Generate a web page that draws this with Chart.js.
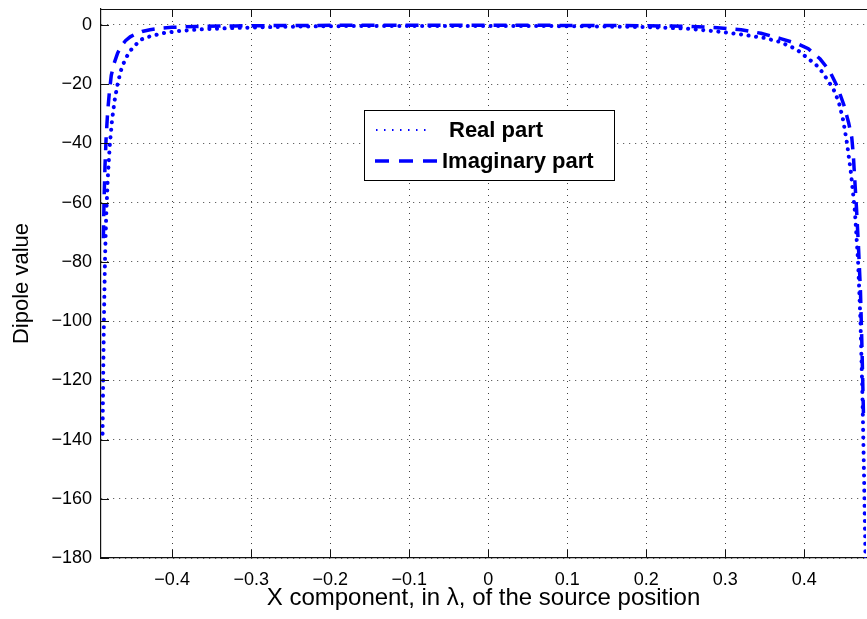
<!DOCTYPE html>
<html>
<head>
<meta charset="utf-8">
<title>Dipole value</title>
<script src="https://cdn.jsdelivr.net/npm/chart.js@4.4.1/dist/chart.umd.min.js"></script>
<style>
    body { margin: 0; background: #fff; }
</style>
</head>
<body>
<canvas id="dipoleChart" width="867" height="619"></canvas>
<script>

// values
let realX = [-0.4880, -0.4872, -0.4862, -0.4850, -0.4835, -0.4815, -0.4790, -0.4760, -0.4725, -0.4690,
             -0.4650, -0.4600, -0.4540, -0.4480, -0.4400, -0.4300, -0.4200, -0.4100, -0.3900, -0.3600,
             -0.3200, -0.2600, -0.2000, -0.1000, 0.0000, 0.1000, 0.2000, 0.2500, 0.2900, 0.3200,
             0.3500, 0.3700, 0.3900, 0.4000, 0.4150, 0.4230, 0.4290, 0.4360, 0.4400, 0.4440,
             0.4490, 0.4540, 0.4590, 0.4640, 0.4680, 0.4710, 0.4735, 0.4755, 0.4775];
let realY = [-138, -118, -98, -80, -65, -52, -41, -32, -25, -20,
             -15.5, -12, -9, -7.2, -5, -4, -3.3, -2.7, -2, -1.4,
             -1, -0.6, -0.4, -0.3, -0.3, -0.4, -0.7, -1.2, -2.2, -3.2,
             -4.4, -5.8, -8.2, -10.3, -13.5, -16, -18.5, -21.2, -23.6, -26.5,
             -32, -40, -50, -63, -80, -100, -125, -152, -182];

let imagX = [-0.4870, -0.4862, -0.4850, -0.4835, -0.4815, -0.4795, -0.4770, -0.4735, -0.4690, -0.4640,
             -0.4590, -0.4530, -0.4460, -0.4380, -0.4280, -0.4150, -0.4000, -0.3700, -0.3200, -0.2500,
             -0.1500, 0.0000, 0.1500, 0.2500, 0.2900, 0.3200, 0.3450, 0.3700, 0.3900, 0.4050,
             0.4200, 0.4320, 0.4420, 0.4500, 0.4560, 0.4600, 0.4620, 0.4635, 0.4660, 0.4685,
             0.4710, 0.4730, 0.4750];
let imagY = [-72, -60, -48, -38, -29, -23, -17, -13, -9.5, -7,
             -5.3, -4, -3, -2.2, -1.6, -1.1, -0.8, -0.5, -0.3, -0.15,
             -0.1, -0.1, -0.15, -0.4, -0.9, -1.6, -2.8, -4.6, -6.2, -8,
             -11.5, -15.5, -21, -27, -33, -38, -44, -51, -62, -75,
             -90, -110, -134];

let xTicks = [-0.4, -0.3, -0.2, -0.1, 0, 0.1, 0.2, 0.3, 0.4];
let yTicks = [-180, -160, -140, -120, -100, -80, -60, -40, -20, 0];

let seriesNames = ['Real part', 'Imaginary part'];

const FONT = '"Liberation Sans", Arial, Helvetica, sans-serif';
const BLUE = '#0000ff';

function toPoints(xs, ys){
    return xs.map((x, i) => ({ x: x, y: ys[i] }));
}

function fmt(v){
    if(v === 0) return '0';
    return (v < 0 ? '\u2212' : '') + Math.abs(v);
}

// box on top + inward ticks, like the matlab axes
const axesBox = {
    id: 'axesBox',
    afterDatasetsDraw(chart){
        let ctx = chart.ctx;
        let a = chart.chartArea;
        let xs = chart.scales.x;
        let ys = chart.scales.y;

        ctx.save();
        ctx.strokeStyle = '#111';
        ctx.lineWidth = 1.2;
        ctx.beginPath();
        ctx.moveTo(a.left, a.top + 0.5);
        ctx.lineTo(a.right + 2, a.top + 0.5);
        ctx.stroke();

        ctx.lineWidth = 1;
        ctx.beginPath();
        xTicks.forEach(v => {
            let px = Math.round(xs.getPixelForValue(v)) + 0.5;
            ctx.moveTo(px, a.bottom);
            ctx.lineTo(px, a.bottom - 8);
            ctx.moveTo(px, a.top);
            ctx.lineTo(px, a.top + 8);
        });
        yTicks.forEach(v => {
            let py = Math.round(ys.getPixelForValue(v)) + 0.5;
            ctx.moveTo(a.left, py);
            ctx.lineTo(a.left + 8, py);
        });
        ctx.stroke();
        ctx.restore();
    }
};

const boxLegend = {
    id: 'boxLegend',
    afterDraw(chart){
        let ctx = chart.ctx;
        let sets = chart.data.datasets;
        let left = 364, top = 110, w = 250, h = 70;

        ctx.save();
        ctx.fillStyle = '#fff';
        ctx.fillRect(left, top, w, h);
        ctx.strokeStyle = '#000';
        ctx.lineWidth = 1;
        ctx.strokeRect(left + 0.5, top + 0.5, w, h);

        // real part sample
        ctx.strokeStyle = sets[0].borderColor;
        ctx.lineWidth = 2;
        ctx.setLineDash([1.5, 6.5]);
        ctx.beginPath();
        ctx.moveTo(376, 130);
        ctx.lineTo(432, 130);
        ctx.stroke();

        // imaginary part sample
        ctx.lineWidth = 3.5;
        ctx.setLineDash([14, 10]);
        ctx.beginPath();
        ctx.moveTo(375, 161);
        ctx.lineTo(438, 161);
        ctx.stroke();
        ctx.setLineDash([]);

        ctx.fillStyle = '#000';
        ctx.font = 'bold 22px ' + FONT;
        ctx.textBaseline = 'middle';
        ctx.fillText(sets[0].label, 449, 131);
        ctx.fillText(sets[1].label, 442, 162);
        ctx.restore();
    }
};

const ctx = document.getElementById('dipoleChart');

new Chart(ctx, {
    type: 'line',
    data: {
        datasets: [{
            label: seriesNames[0],
            data: toPoints(realX, realY),
            borderColor: BLUE,
            borderWidth: 4,
            borderDash: [0.1, 7.5],
            borderCapStyle: 'round',
            pointRadius: 0,
            tension: 0,
            fill: false
        }, {
            label: seriesNames[1],
            data: toPoints(imagX, imagY),
            borderColor: BLUE,
            borderWidth: 3.5,
            borderDash: [13, 9],
            pointRadius: 0,
            tension: 0,
            fill: false
        }]
    },
    options: {
        responsive: false,
        animation: false,
        layout: { padding: { top: 9, right: 1, left: 0, bottom: 0 } },
        plugins: {
            legend: { display: false },
            tooltip: { enabled: false }
        },
        scales: {
            x: {
                type: 'linear',
                min: -0.49,
                max: 0.478,
                afterBuildTicks: axis => { axis.ticks = xTicks.map(v => ({ value: v })); },
                afterFit: axis => {
                    axis.height = 61;
                    axis.paddingLeft = 0;
                    axis.paddingRight = 0;
                },
                grid: { color: 'rgba(0,0,0,0.75)', lineWidth: 1, drawTicks: false },
                border: { display: true, color: '#111', width: 1.2, dash: [1, 5] },
                ticks: {
                    padding: 11,
                    color: '#000',
                    maxRotation: 0,
                    font: { family: FONT, size: 18 },
                    callback: v => fmt(v)
                },
                title: {
                    display: true,
                    text: 'X component, in \u03bb, of the source position',
                    color: '#000',
                    font: { family: FONT, size: 24 },
                    padding: { top: 0, bottom: 6 }
                }
            },
            y: {
                type: 'linear',
                min: -180,
                max: 5.4,
                afterBuildTicks: axis => { axis.ticks = yTicks.map(v => ({ value: v })); },
                afterFit: axis => {
                    axis.width = 101;
                    axis.paddingTop = 0;
                    axis.paddingBottom = 0;
                },
                grid: { color: 'rgba(0,0,0,0.75)', lineWidth: 1, drawTicks: false },
                border: { display: true, color: '#111', width: 1.2, dash: [1, 5] },
                ticks: {
                    padding: 9,
                    color: '#000',
                    font: { family: FONT, size: 18 },
                    callback: v => fmt(v)
                },
                title: {
                    display: true,
                    text: 'Dipole value',
                    color: '#000',
                    font: { family: FONT, size: 22 },
                    padding: { top: 9, bottom: 0 }
                }
            }
        }
    },
    plugins: [axesBox, boxLegend]
});
</script>
</body>
</html>
